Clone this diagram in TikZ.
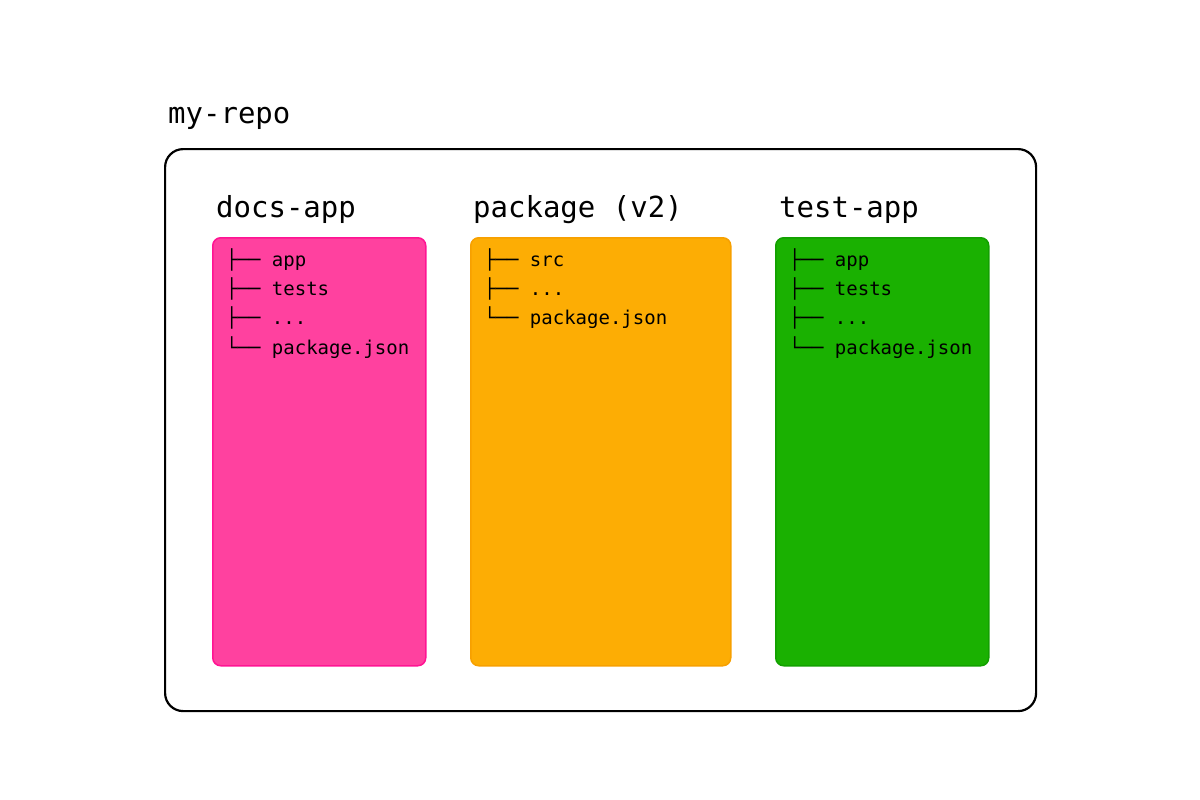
\documentclass[tikz,border=0pt]{standalone}
\usepackage{fontspec}
\setmonofont{DejaVu Sans Mono}

\definecolor{docspink}{HTML}{FF419F}
\definecolor{docsline}{HTML}{FF1493}
\definecolor{pkgorange}{HTML}{FDAD04}
\definecolor{pkgline}{HTML}{F7A000}
\definecolor{testgreen}{HTML}{1AB101}
\definecolor{testline}{HTML}{12A000}

\newcommand{\treedots}{...}

\tikzset{
  repoframe/.style={draw=black, line width=2.2pt, rounded corners=18pt, anchor=north west, inner sep=0pt},
  appbox/.style={line width=1.5pt, rounded corners=8pt, anchor=north west, inner sep=0pt, minimum height=428pt},
  headline/.style={font=\ttfamily\fontsize{29}{34}\selectfont, anchor=base west, inner sep=0pt},
  treeline/.style={font=\ttfamily\fontsize{19}{24}\selectfont, anchor=base west, inner sep=0pt}
}

\begin{document}
\begin{tikzpicture}[x=1pt,y=-1pt]
\useasboundingbox (0,0) rectangle (1200,800);

\node[headline] (repotitle) at (168,123) {my-repo};
\node[repoframe, minimum width=871pt, minimum height=562pt] (repo) at (164,148) {};

% one box per workspace
\node[appbox, fill=docspink, draw=docsline, minimum width=213pt] (docsbox) at (212,237) {};
\node[appbox, fill=pkgorange, draw=pkgline, minimum width=260pt] (pkgbox) at (470,237) {};
\node[appbox, fill=testgreen, draw=testline, minimum width=213pt] (testbox) at (775,237) {};

\node[headline] (docstitle) at (216,217) {docs-app};
\node[headline] (pkgtitle) at (473,217) {package (v2)};
\node[headline] (testtitle) at (779,217) {test-app};

\foreach \y/\t in {266/{├── app}, 295.3/{├── tests}, 324.6/{├── \treedots}, 354/{└── package.json}}
	\node[treeline] (docs\y) at (226,\y) {\t};

\foreach \y/\t in {266/{├── src}, 295.3/{├── \treedots}, 324.6/{└── package.json}}
	\node[treeline] (pkg\y) at (484,\y) {\t};

\foreach \y/\t in {266/{├── app}, 295.3/{├── tests}, 324.6/{├── \treedots}, 354/{└── package.json}}
	\node[treeline] (test\y) at (789,\y) {\t};
\end{tikzpicture}
\end{document}
